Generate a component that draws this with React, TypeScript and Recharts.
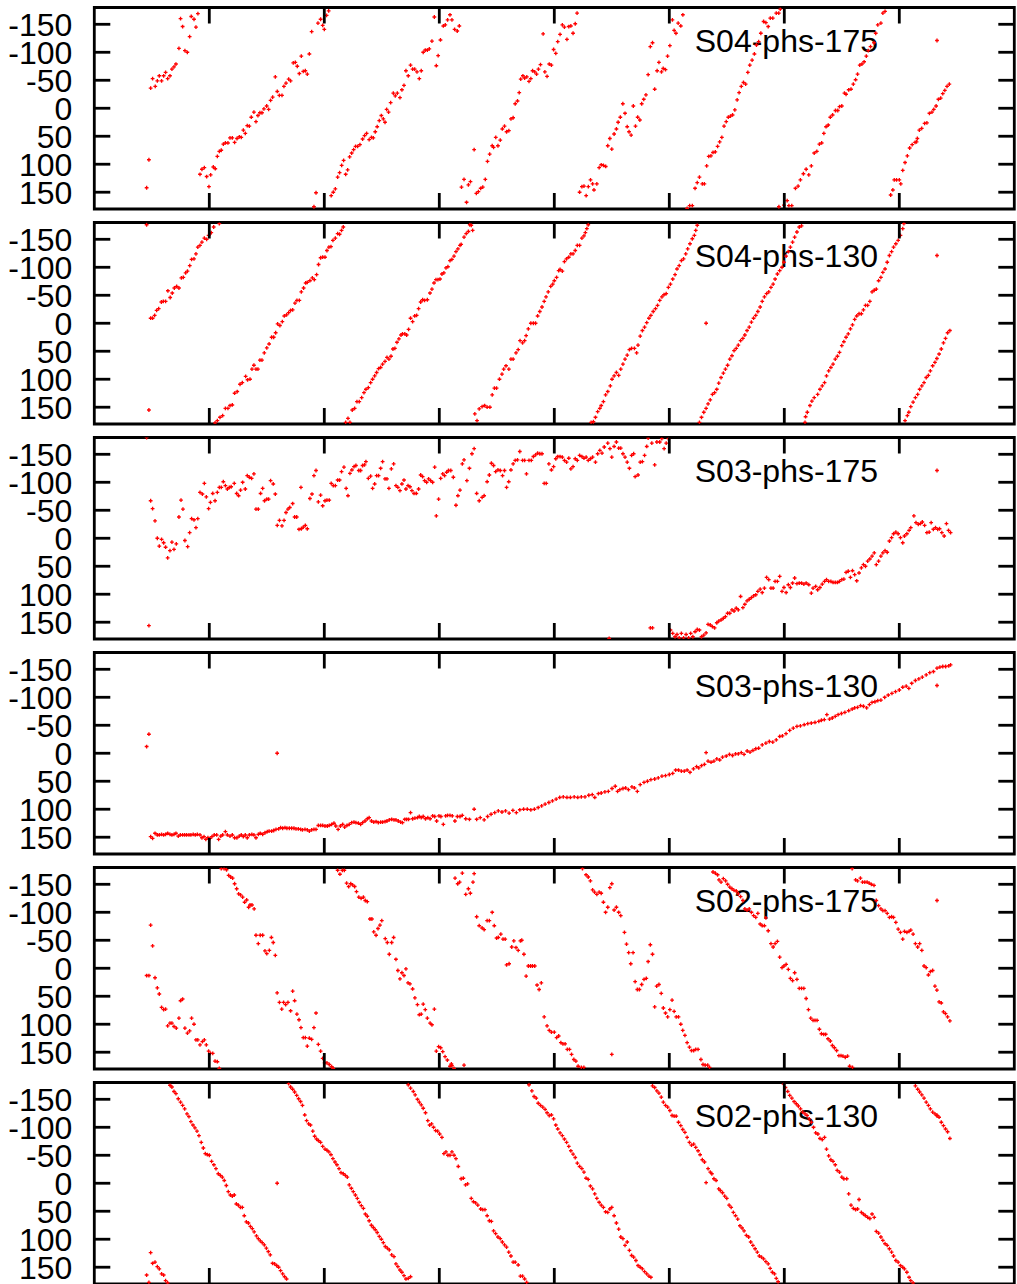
import React from 'react';
import { ScatterChart, Scatter, XAxis, YAxis, ReferenceArea } from 'recharts';

type Pt = [number, number];

// phase (deg) against time; x in tick units (0..8)
const s04_175: Pt[] = [
  [0.455,142],[0.475,92],[0.49,-36],[0.507,-53],[0.53,-39],[0.548,-49],[0.565,-58],[0.585,-49],[0.603,-58],[0.62,-64],[0.638,-53],[0.658,-58],[0.675,-70],[0.693,-74],[0.71,-79],[0.736,-107],[0.75,-160],[0.768,-146],[0.788,-103],[0.809,-100],[0.829,-128],[0.843,-164],[0.867,-159],[0.884,-145],[0.901,-169],
  [0.919,118],[0.936,109],[0.957,106],[0.977,122],[0.997,140],[1.012,119],[1.035,105],[1.052,108],[1.07,86],[1.087,77],[1.104,75],[1.122,64],[1.14,62],[1.162,62],[1.18,53],[1.2,53],[1.22,61],[1.241,54],[1.261,51],[1.278,52],[1.296,39],[1.313,45],[1.33,31],[1.348,32],[1.365,16],[1.388,7],[1.406,24],[1.423,13],[1.44,8],[1.458,8],[1.475,1],[1.499,-4],[1.516,2],[1.533,-14],[1.551,-20],[1.574,-56],[1.591,-30],[1.609,-23],[1.632,-23],[1.649,-39],[1.667,-45],[1.69,-52],[1.707,-49],[1.73,-81],[1.748,-82],[1.765,-75],[1.783,-62],[1.8,-93],[1.817,-66],[1.835,-67],[1.852,-61],[1.87,-97],[1.89,-137],[1.91,176],[1.928,151],[1.945,-152],[1.968,-159],[1.986,-148],[2.0,-141],[2.02,-166],[2.038,-174],
  [2.06,156],[2.078,150],[2.096,144],[2.116,123],[2.133,115],[2.151,102],[2.168,93],[2.186,118],[2.203,110],[2.22,87],[2.238,80],[2.255,74],[2.272,68],[2.29,68],[2.31,65],[2.333,55],[2.35,49],[2.368,45],[2.39,56],[2.41,52],[2.426,53],[2.443,42],[2.46,33],[2.478,22],[2.496,13],[2.513,19],[2.528,25],[2.542,2],[2.559,7],[2.577,-10],[2.6,-27],[2.617,-22],[2.635,-27],[2.658,-19],[2.675,-33],[2.693,-41],[2.71,-67],[2.73,-58],[2.75,-77],[2.768,-70],[2.786,-70],[2.806,-65],[2.826,-53],[2.843,-67],[2.86,-100],[2.878,-104],[2.896,-104],[2.913,-106],[2.936,-120],[2.957,-163],[2.974,-76],[2.99,-94],[3.01,-122],[3.035,-147],[3.052,-149],[3.072,-158],[3.093,-167],[3.11,-158],[3.133,-141],[3.156,-138],[3.174,-147],
  [3.193,141],[3.215,127],[3.237,168],[3.253,137],[3.271,131],[3.303,74],[3.322,152],[3.34,149],[3.36,143],[3.378,141],[3.4,127],[3.419,95],[3.438,82],[3.46,67],[3.472,70],[3.491,52],[3.51,67],[3.53,57],[3.548,37],[3.567,32],[3.585,42],[3.605,40],[3.623,19],[3.642,17],[3.66,-8],[3.68,-13],[3.695,-28],[3.708,-52],[3.727,-58],[3.742,-54],[3.761,-56],[3.78,-48],[3.796,-53],[3.811,-67],[3.83,-65],[3.846,-61],[3.862,-70],[3.88,-78],[3.903,-133],[3.918,-65],[3.937,-57],[3.956,-79],[3.975,-77],[3.994,-105],[4.013,-98],[4.03,-119],[4.05,-132],[4.07,-149],[4.088,-145],[4.11,-123],[4.126,-146],[4.144,-147],[4.163,-134],[4.182,-151],[4.198,-170],
  [4.22,150],[4.24,140],[4.258,139],[4.277,156],[4.296,140],[4.315,128],[4.333,135],[4.345,146],[4.37,135],[4.39,106],[4.408,101],[4.427,102],[4.447,104],[4.465,67],[4.483,54],[4.5,73],[4.52,46],[4.54,37],[4.555,25],[4.574,16],[4.596,-8],[4.615,9],[4.634,33],[4.65,42],[4.668,48],[4.687,-4],[4.706,32],[4.725,16],[4.744,21],[4.76,-8],[4.778,-16],[4.797,-24],[4.816,-60],[4.835,-110],[4.854,-117],[4.873,-34],[4.894,-67],[4.91,-82],[4.932,-65],[4.947,-71],[4.967,-69],[4.985,-93],[5.005,-112],[5.027,-158],[5.042,-139],[5.058,-134],[5.077,-152],[5.1,-147],[5.118,-167],
  [5.155,179],[5.177,174],[5.2,174],[5.224,143],[5.243,133],[5.262,123],[5.287,135],[5.305,135],[5.325,103],[5.343,86],[5.362,85],[5.38,79],[5.4,78],[5.42,68],[5.438,60],[5.457,52],[5.476,32],[5.495,24],[5.513,16],[5.532,14],[5.55,12],[5.57,3],[5.59,-15],[5.607,-28],[5.626,-39],[5.645,-46],[5.664,-43],[5.683,-64],[5.7,-77],[5.72,-86],[5.74,-97],[5.758,-113],[5.777,-119],[5.796,-134],[5.82,-155],[5.84,-153],[5.86,-146],[5.878,-161],[5.9,-161],[5.93,-170],[5.952,-170],[5.965,-177],
  [5.953,176],[5.997,173],[6.025,165],[6.04,174],[6.065,174],[6.097,143],[6.12,139],[6.14,128],[6.166,117],[6.19,109],[6.213,119],[6.235,103],[6.26,80],[6.283,77],[6.305,64],[6.325,62],[6.344,45],[6.363,33],[6.382,30],[6.4,16],[6.42,12],[6.445,4],[6.465,4],[6.48,-3],[6.5,-4],[6.523,-27],[6.537,-25],[6.56,-33],[6.58,-34],[6.6,-43],[6.62,-51],[6.637,-61],[6.656,-77],[6.675,-79],[6.694,-83],[6.713,-93],[6.73,-103],[6.75,-110],[6.78,-117],[6.795,-134],[6.813,-149],[6.84,-152],[6.857,-170],[6.876,-173],
  [6.925,155],[6.944,146],[6.956,128],[6.976,128],[7.0,128],[7.013,135],[7.03,111],[7.05,97],[7.07,85],[7.09,71],[7.112,65],[7.137,61],[7.15,60],[7.157,54],[7.174,39],[7.195,36],[7.22,27],[7.24,26],[7.262,9],[7.284,7],[7.3,2],[7.32,-4],[7.34,-16],[7.36,-18],[7.378,-26],[7.396,-32],[7.415,-39],[7.435,-43],
];

const s04_130: Pt[] = [
  [0.455,-176],[0.475,155],
  [0.49,-9],[0.507,-9],[0.525,-14],[0.542,-23],[0.56,-26],[0.583,-38],[0.6,-39],[0.62,-39],[0.64,-58],[0.66,-46],[0.678,-54],[0.696,-63],[0.716,-66],[0.736,-63],[0.757,-81],[0.774,-82],[0.794,-90],[0.81,-93],[0.83,-103],[0.846,-114],[0.867,-115],[0.884,-124],[0.9,-136],[0.919,-139],[0.936,-145],[0.957,-152],[0.977,-150],[0.994,-157],[1.006,-160],[1.017,-162],[1.038,-172],[1.087,-178],
  [1.05,178],[1.07,174],[1.093,168],[1.116,165],[1.14,152],[1.162,152],[1.18,147],[1.2,146],[1.22,125],[1.243,122],[1.267,109],[1.287,106],[1.316,95],[1.333,101],[1.354,100],[1.371,82],[1.388,75],[1.406,82],[1.423,82],[1.44,66],[1.458,66],[1.478,53],[1.5,44],[1.52,37],[1.542,25],[1.56,25],[1.577,17],[1.594,1],[1.614,4],[1.635,-3],[1.652,-13],[1.672,-15],[1.69,-19],[1.707,-23],[1.725,-24],[1.745,-36],[1.762,-41],[1.783,-41],[1.8,-56],[1.82,-63],[1.838,-72],[1.852,-73],[1.875,-76],[1.896,-81],[1.913,-78],[1.933,-87],[1.95,-105],[1.968,-117],[1.986,-118],[2.006,-118],[2.023,-130],[2.04,-136],[2.058,-137],[2.075,-148],[2.096,-152],[2.116,-160],[2.133,-159],[2.15,-166],[2.165,-172],
  [2.186,177],[2.206,170],[2.223,177],[2.243,155],[2.264,152],[2.284,140],[2.304,140],[2.325,133],[2.345,124],[2.362,118],[2.383,115],[2.403,106],[2.42,100],[2.438,94],[2.455,88],[2.472,81],[2.49,79],[2.507,73],[2.528,68],[2.545,61],[2.562,64],[2.58,59],[2.597,46],[2.614,45],[2.632,34],[2.649,28],[2.667,21],[2.68,19],[2.7,19],[2.716,21],[2.733,11],[2.75,-9],[2.768,-3],[2.786,-13],[2.803,-14],[2.82,-26],[2.838,-38],[2.855,-42],[2.872,-41],[2.896,-42],[2.919,-54],[2.936,-61],[2.954,-72],[2.971,-78],[2.988,-78],[3.006,-79],[3.023,-88],[3.04,-90],[3.058,-99],[3.075,-101],[3.093,-112],[3.11,-114],[3.128,-120],[3.145,-128],[3.162,-133],[3.18,-139],[3.19,-141],[3.215,-154],[3.234,-160],[3.253,-164],[3.265,-176],[3.278,-175],[3.29,-166],
  [3.309,162],[3.328,174],[3.347,153],[3.372,149],[3.394,147],[3.416,150],[3.44,150],[3.46,128],[3.479,116],[3.498,116],[3.523,100],[3.545,91],[3.56,82],[3.58,76],[3.605,82],[3.623,64],[3.642,64],[3.667,53],[3.686,47],[3.702,31],[3.724,35],[3.742,31],[3.755,22],[3.774,10],[3.796,0],[3.818,0],[3.837,0],[3.855,-13],[3.874,-21],[3.893,-29],[3.912,-39],[3.928,-47],[3.947,-56],[3.969,-66],[3.987,-70],[4.0,-76],[4.02,-82],[4.038,-94],[4.05,-96],[4.07,-93],[4.088,-110],[4.106,-115],[4.126,-118],[4.144,-124],[4.163,-124],[4.182,-130],[4.2,-139],[4.22,-139],[4.24,-152],[4.258,-156],[4.27,-162],[4.283,-169],[4.295,-176],
  [4.32,177],[4.34,176],[4.358,168],[4.377,158],[4.396,152],[4.408,147],[4.427,140],[4.446,128],[4.465,122],[4.487,112],[4.502,100],[4.52,94],[4.54,88],[4.56,93],[4.578,82],[4.597,73],[4.615,64],[4.634,57],[4.653,47],[4.672,45],[4.697,45],[4.716,53],[4.728,39],[4.747,23],[4.766,13],[4.785,7],[4.804,-1],[4.823,-9],[4.84,-14],[4.86,-21],[4.88,-26],[4.898,-32],[4.917,-41],[4.936,-47],[4.954,-51],[4.973,-53],[4.992,-64],[5.01,-70],[5.03,-79],[5.05,-87],[5.067,-97],[5.086,-103],[5.105,-112],[5.124,-115],[5.143,-124],[5.16,-133],[5.18,-142],[5.2,-151],[5.218,-157],[5.23,-166],[5.243,-175],
  [5.32,0],
  [5.262,177],[5.28,168],[5.3,159],[5.32,152],[5.337,144],[5.356,137],[5.375,127],[5.394,124],[5.413,118],[5.43,107],[5.45,97],[5.47,89],[5.488,82],[5.507,75],[5.526,64],[5.545,58],[5.563,49],[5.582,45],[5.6,39],[5.62,31],[5.64,27],[5.657,21],[5.676,13],[5.695,7],[5.714,-2],[5.733,-9],[5.752,-14],[5.77,-21],[5.79,-29],[5.808,-39],[5.827,-47],[5.846,-53],[5.865,-56],[5.884,-64],[5.903,-70],[5.92,-79],[5.94,-88],[5.96,-94],[5.98,-100],[5.997,-109],[6.016,-120],[6.035,-128],[6.053,-136],[6.072,-145],[6.09,-154],[6.11,-163],[6.13,-172],[6.15,-174],
  [6.18,177],[6.185,167],[6.2,159],[6.223,147],[6.24,139],[6.26,133],[6.29,127],[6.31,118],[6.33,112],[6.35,106],[6.367,94],[6.386,85],[6.405,79],[6.424,73],[6.443,64],[6.462,59],[6.48,52],[6.5,40],[6.518,33],[6.537,25],[6.556,19],[6.575,10],[6.593,3],[6.612,-7],[6.63,-13],[6.65,-17],[6.67,-17],[6.688,-24],[6.706,-32],[6.725,-32],[6.744,-39],[6.763,-56],[6.782,-59],[6.8,-61],[6.82,-76],[6.84,-82],[6.857,-91],[6.876,-97],[6.895,-109],[6.914,-121],[6.933,-128],[6.95,-136],[6.97,-142],[6.99,-148],[7.01,-157],[7.03,-169],[7.04,-178],
  [7.05,174],[7.07,165],[7.083,159],[7.1,149],[7.12,141],[7.14,133],[7.16,127],[7.177,118],[7.196,112],[7.215,106],[7.234,97],[7.253,93],[7.27,85],[7.29,76],[7.31,70],[7.327,63],[7.346,55],[7.365,46],[7.384,35],[7.402,27],[7.42,17],[7.44,13],
];

const s03_175: Pt[] = [
  [0.455,-180],[0.475,156],[0.49,-67],[0.507,-53],[0.528,-31],[0.548,0],[0.565,14],[0.585,2],[0.603,8],[0.62,16],[0.638,35],[0.658,22],[0.675,7],[0.693,20],[0.713,10],[0.736,-38],[0.754,-68],[0.771,-52],[0.788,4],[0.812,15],[0.829,-10],[0.846,-35],[0.867,-33],[0.884,-19],[0.9,-35],[0.919,-82],[0.94,-79],[0.957,-98],[0.974,-74],[0.994,-53],[1.01,-64],[1.03,-80],[1.05,-67],[1.07,-82],[1.087,-91],[1.104,-91],[1.122,-101],[1.14,-94],[1.157,-88],[1.174,-91],[1.19,-92],[1.217,-98],[1.238,-80],[1.255,-76],[1.272,-86],[1.29,-100],[1.313,-88],[1.33,-112],[1.348,-109],[1.368,-107],[1.388,-115],[1.406,-52],[1.426,-52],[1.446,-80],[1.464,-89],[1.48,-67],[1.5,-70],[1.516,-70],[1.533,-103],[1.556,-97],[1.574,-79],[1.591,-23],[1.61,-32],[1.632,-22],[1.65,-32],[1.667,-46],[1.684,-52],[1.7,-55],[1.725,-62],[1.742,-38],[1.76,-38],[1.78,-16],[1.797,-91],[1.8,-17],[1.817,-20],[1.835,-23],[1.852,-17],[1.875,-71],[1.893,-79],[1.91,-112],[1.928,-121],[1.948,-65],[1.968,-77],[1.986,-58],[2.006,-67],[2.023,-68],[2.043,-68],[2.06,-98],[2.078,-94],[2.096,-94],[2.116,-104],[2.133,-104],[2.15,-119],[2.171,-127],[2.19,-89],[2.206,-76],[2.223,-116],[2.24,-122],[2.258,-128],[2.275,-130],[2.3,-121],[2.316,-121],[2.333,-130],[2.35,-131],[2.362,-137],[2.383,-107],[2.403,-111],[2.42,-89],[2.438,-97],[2.455,-112],[2.472,-112],[2.49,-125],[2.507,-137],[2.528,-106],[2.545,-106],[2.562,-89],[2.583,-124],[2.603,-133],[2.623,-94],[2.64,-91],[2.658,-85],[2.675,-97],[2.693,-104],[2.71,-88],[2.728,-94],[2.745,-92],[2.762,-85],[2.78,-80],[2.8,-80],[2.82,-88],[2.838,-113],[2.855,-110],[2.872,-103],[2.89,-100],[2.907,-106],[2.925,-103],[2.942,-100],[2.96,-127],[2.974,-40],[2.994,-70],[3.012,-107],[3.03,-115],[3.046,-112],[3.064,-118],[3.08,-121],[3.1,-121],[3.122,-109],[3.145,-59],[3.162,-76],[3.18,-86],
  [3.2,-133],[3.215,-140],[3.24,-103],[3.262,-125],[3.284,-151],[3.303,-160],[3.325,-80],[3.347,-67],[3.372,-73],[3.39,-76],[3.416,-101],[3.435,-113],[3.453,-134],[3.472,-130],[3.49,-119],[3.51,-122],[3.53,-121],[3.55,-112],[3.567,-121],[3.585,-91],[3.604,-101],[3.623,-122],[3.642,-133],[3.66,-139],[3.68,-140],[3.7,-155],[3.724,-139],[3.742,-139],[3.758,-115],[3.78,-139],[3.8,-139],[3.818,-146],[3.837,-149],[3.855,-152],[3.874,-151],[3.893,-151],[3.912,-98],[3.93,-98],[3.953,-133],[3.975,-122],[3.994,-128],[4.013,-142],[4.03,-146],[4.05,-146],[4.07,-145],[4.088,-139],[4.107,-136],[4.126,-143],[4.144,-124],[4.163,-128],[4.182,-142],[4.2,-139],[4.22,-148],[4.24,-146],[4.258,-143],[4.277,-145],[4.295,-139],[4.314,-142],[4.333,-145],[4.358,-136],[4.377,-151],[4.396,-157],[4.415,-152],[4.434,-163],[4.465,-170],[4.484,-160],[4.5,-145],[4.52,-164],[4.54,-172],[4.56,-161],[4.578,-161],[4.597,-151],[4.615,-145],[4.634,-136],[4.653,-125],[4.672,-148],[4.69,-151],[4.703,-110],[4.728,-113],[4.747,-136],[4.766,-137],[4.785,-148],[4.804,-164],[4.816,-179],[4.848,-170],[4.873,-131],[4.892,-172],[4.917,-172],[4.935,-178],[4.955,-160],[4.973,-170],[4.992,-178],
  [4.477,179],[4.835,160],[4.854,160],[5.01,164],[5.03,170],[5.05,176],[5.067,172],[5.086,178],[5.105,170],[5.124,178],[5.146,172],[5.168,178],[5.186,170],[5.205,176],[5.224,167],[5.243,163],[5.262,164],[5.28,176],[5.3,173],[5.32,169],[5.337,154],[5.356,155],[5.375,158],[5.394,160],[5.413,151],[5.43,148],[5.45,146],[5.47,143],[5.488,140],[5.507,134],[5.526,134],[5.545,128],[5.563,130],[5.582,125],[5.6,128],[5.62,104],[5.64,124],[5.657,118],[5.676,112],[5.695,109],[5.714,106],[5.733,103],[5.752,101],[5.77,95],[5.79,91],[5.808,97],[5.827,89],[5.846,70],[5.865,74],[5.884,89],[5.903,89],[5.92,77],[5.94,77],[5.96,68],[5.98,95],[5.997,88],[6.016,97],[6.035,83],[6.053,88],[6.072,80],[6.09,71],[6.11,81],[6.13,80],[6.15,80],[6.17,82],[6.19,80],[6.213,83],[6.235,98],[6.25,89],[6.273,86],[6.29,92],[6.31,88],[6.33,82],[6.35,77],[6.367,74],[6.386,77],[6.405,77],[6.424,79],[6.443,79],[6.462,79],[6.48,77],[6.5,74],[6.518,73],[6.537,61],[6.556,59],[6.575,70],[6.593,58],[6.612,65],[6.63,76],[6.65,62],[6.67,53],[6.688,47],[6.706,50],[6.725,41],[6.744,37],[6.763,32],[6.782,26],[6.8,47],[6.82,41],[6.84,32],[6.857,26],[6.876,22],[6.895,25],[6.914,5],[6.933,-1],[6.95,-8],[6.97,-11],[6.99,-8],[7.01,-1],[7.03,8],[7.045,-4],[7.066,-8],[7.085,-14],[7.1,-19],[7.127,-40],[7.145,-28],[7.165,-25],[7.184,-26],[7.2,-29],[7.22,-23],[7.24,-10],[7.26,-11],[7.277,-28],[7.296,-16],[7.315,-19],[7.334,-16],[7.35,-17],[7.37,-10],[7.39,-4],[7.41,-26],[7.428,-14],[7.446,-10],
];

const s03_130: Pt[] = [
  [0.455,-12],[0.475,-34],[1.59,0],
  [0.49,149],[0.507,152],[0.528,143],[0.548,146],[0.565,146],[0.585,145],[0.603,146],[0.62,145],[0.638,143],[0.658,145],[0.675,146],[0.693,145],[0.71,143],[0.73,148],[0.748,146],[0.768,146],[0.786,146],[0.803,146],[0.823,146],[0.84,146],[0.86,145],[0.878,146],[0.896,145],[0.919,146],[0.936,151],[0.954,149],[0.97,154],[0.988,151],[1.006,152],[1.023,149],[1.043,146],[1.064,146],[1.081,154],[1.1,148],[1.116,146],[1.14,140],[1.157,146],[1.18,148],[1.2,146],[1.22,151],[1.24,151],[1.26,148],[1.278,146],[1.296,149],[1.313,146],[1.33,151],[1.348,146],[1.37,145],[1.388,146],[1.406,151],[1.426,145],[1.443,143],[1.464,145],[1.484,142],[1.504,140],[1.52,139],[1.542,139],[1.56,138],[1.58,136],[1.603,135],[1.62,133],[1.638,134],[1.658,133],[1.675,134],[1.696,134],[1.716,134],[1.736,134],[1.754,135],[1.774,135],[1.794,136],[1.81,137],[1.832,136],[1.852,137],[1.87,139],[1.89,137],[1.91,136],[1.928,136],[1.948,129],[1.968,129],[1.986,129],[2.006,130],[2.026,130],[2.043,129],[2.064,127],[2.084,125],[2.1,130],[2.12,136],[2.14,130],[2.16,127],[2.177,132],[2.197,129],[2.217,127],[2.238,124],[2.258,123],[2.275,124],[2.296,125],[2.316,127],[2.333,124],[2.354,121],[2.374,117],[2.39,115],[2.41,121],[2.43,123],[2.45,122],[2.47,124],[2.49,123],[2.507,123],[2.528,122],[2.545,121],[2.565,119],[2.586,118],[2.606,119],[2.623,119],[2.643,121],[2.664,123],[2.68,124],[2.7,118],[2.716,118],[2.733,118],[2.75,106],[2.768,117],[2.788,116],[2.81,115],[2.826,113],[2.843,115],[2.86,113],[2.88,117],[2.9,115],[2.92,117],[2.942,112],[2.96,113],[2.977,121],[2.997,112],[3.014,113],[3.035,127],[3.055,112],[3.072,111],[3.093,111],[3.113,112],[3.136,121],[3.157,113],[3.18,113],
  [3.2,111],[3.23,117],[3.262,118],[3.303,100],[3.325,118],[3.356,115],[3.39,119],[3.42,113],[3.45,109],[3.482,106],[3.513,103],[3.545,105],[3.576,103],[3.607,107],[3.64,102],[3.67,106],[3.7,101],[3.733,100],[3.765,100],[3.796,101],[3.827,100],[3.86,97],[3.89,94],[3.92,91],[3.953,88],[3.984,85],[4.016,82],[4.047,79],[4.078,78],[4.11,79],[4.14,79],[4.173,78],[4.204,79],[4.235,78],[4.267,78],[4.3,75],[4.33,74],[4.352,79],[4.383,72],[4.408,71],[4.44,69],[4.47,68],[4.502,63],[4.53,59],[4.55,68],[4.57,65],[4.597,63],[4.62,62],[4.645,65],[4.675,60],[4.697,62],[4.722,68],[4.747,56],[4.78,52],[4.81,50],[4.84,47],[4.873,46],[4.904,44],[4.936,41],[4.967,40],[5.0,38],[5.03,36],[5.055,30],[5.08,30],[5.105,32],[5.13,32],[5.155,30],[5.18,34],[5.21,28],[5.237,24],[5.256,26],[5.28,22],[5.306,20],[5.32,-1],[5.337,14],[5.363,16],[5.388,14],[5.413,10],[5.438,12],[5.463,7],[5.495,5],[5.523,2],[5.55,4],[5.576,1],[5.6,1],[5.626,-1],[5.65,2],[5.677,-4],[5.702,-2],[5.727,-5],[5.752,-8],[5.777,-9],[5.808,-15],[5.84,-18],[5.87,-21],[5.9,-20],[5.93,-24],[5.96,-30],[5.984,-31],[6.015,-35],[6.047,-41],[6.078,-45],[6.11,-48],[6.14,-49],[6.173,-51],[6.204,-53],[6.235,-54],[6.267,-55],[6.3,-57],[6.323,-59],[6.348,-60],[6.37,-69],[6.393,-61],[6.417,-63],[6.443,-66],[6.468,-69],[6.497,-71],[6.527,-73],[6.56,-76],[6.59,-79],[6.612,-81],[6.637,-82],[6.663,-85],[6.688,-84],[6.716,-81],[6.74,-87],[6.763,-91],[6.788,-92],[6.813,-94],[6.84,-95],[6.873,-100],[6.904,-104],[6.936,-107],[6.967,-110],[7.0,-113],[7.03,-118],[7.06,-120],[7.083,-116],[7.108,-125],[7.14,-130],[7.17,-133],[7.2,-136],[7.234,-140],[7.265,-144],[7.297,-146],[7.328,-152],[7.353,-154],[7.378,-155],[7.403,-155],[7.43,-156],[7.446,-158],
];

const s02_175: Pt[] = [
  [0.455,13],[0.475,13],[0.49,-77],[0.507,-40],[0.528,17],[0.548,35],[0.565,46],[0.585,70],[0.603,74],[0.62,73],[0.638,103],[0.658,98],[0.675,98],[0.693,104],[0.713,107],[0.736,89],[0.75,58],[0.768,55],[0.788,107],[0.81,116],[0.829,112],[0.846,89],[0.867,100],[0.884,128],[0.9,128],[0.919,137],[0.94,131],[0.957,128],[0.974,137],[0.994,148],[1.01,152],[1.03,152],[1.05,166],[1.07,167],[1.087,179],
  [1.104,-178],[1.128,-178],[1.15,-176],[1.168,-166],[1.186,-163],[1.203,-161],[1.22,-151],[1.238,-142],[1.255,-133],[1.272,-131],[1.29,-127],[1.307,-118],[1.325,-122],[1.342,-109],[1.354,-113],[1.371,-113],[1.39,-106],[1.406,-59],[1.426,-44],[1.443,-59],[1.464,-59],[1.484,-31],[1.5,-26],[1.522,-32],[1.54,-55],[1.556,-46],[1.574,-23],[1.59,44],[1.61,61],[1.63,73],[1.646,61],[1.664,65],[1.684,61],[1.707,76],[1.725,41],[1.742,58],[1.762,82],[1.78,92],[1.797,106],[1.817,124],[1.835,124],[1.852,139],[1.87,125],[1.89,127],[1.91,106],[1.928,80],[1.948,136],[1.968,148],[1.986,161],[2.003,169],[2.023,169],[2.043,172],[2.064,176],[2.078,179],
  [2.116,-175],[2.136,-168],[2.157,-175],[2.174,-175],[2.194,-152],[2.212,-146],[2.23,-151],[2.246,-149],[2.264,-146],[2.28,-137],[2.3,-127],[2.32,-125],[2.34,-127],[2.356,-121],[2.374,-119],[2.397,-88],[2.414,-88],[2.43,-65],[2.45,-59],[2.467,-71],[2.484,-77],[2.5,-85],[2.53,-53],[2.548,-46],[2.565,-25],[2.586,-46],[2.603,-55],[2.623,-16],[2.64,4],[2.658,19],[2.675,8],[2.693,13],[2.71,1],[2.728,26],[2.745,28],[2.768,37],[2.788,53],[2.81,65],[2.826,83],[2.843,82],[2.86,64],[2.878,74],[2.896,89],[2.92,98],[2.936,101],[2.957,73],
  [2.974,148],[2.994,140],[3.012,142],[3.03,149],[3.05,158],[3.07,164],[3.093,175],[3.105,171],[3.11,174],[3.128,179],[3.215,173],
  [3.137,-161],[3.16,-151],[3.177,-154],[3.2,-170],[3.23,-132],[3.253,-142],[3.27,-134],[3.293,-154],[3.303,-169],[3.325,-92],[3.347,-76],[3.372,-72],[3.39,-69],[3.416,-85],[3.435,-85],[3.46,-100],[3.478,-76],[3.498,-54],[3.513,-55],[3.535,-61],[3.554,-52],[3.573,-52],[3.585,-6],[3.607,-8],[3.63,-38],[3.648,-49],[3.667,-37],[3.686,-32],[3.705,-49],[3.717,-50],[3.736,-25],[3.755,14],[3.774,-4],[3.793,-4],[3.81,-4],[3.83,-4],[3.85,30],[3.868,38],[3.887,26],[3.912,87],[3.937,103],[3.956,111],[3.975,114],[4.0,114],[4.02,124],[4.038,121],[4.057,133],[4.075,135],[4.094,135],[4.113,145],[4.132,145],[4.15,154],[4.17,163],[4.188,166],[4.207,175],[4.235,177],[4.257,177],
  [4.245,-178],[4.276,-167],[4.295,-163],[4.314,-156],[4.333,-140],[4.35,-136],[4.37,-132],[4.39,-136],[4.408,-134],[4.427,-118],[4.446,-100],[4.465,-109],[4.483,-144],[4.5,-151],[4.52,-104],[4.54,-109],[4.56,-100],[4.578,-94],[4.61,-64],[4.628,-43],[4.647,-28],[4.665,-8],[4.685,-28],[4.703,24],[4.722,38],[4.74,38],[4.76,29],[4.78,20],[4.8,18],[4.816,-12],[4.835,-42],[4.854,-25],[4.873,69],[4.89,32],[4.91,29],[4.93,45],[4.948,71],[4.967,80],[4.986,87],[5.005,74],[5.024,57],[5.042,77],[5.06,87],[5.08,87],[5.1,100],[5.117,111],[5.136,120],[5.155,133],[5.175,141],[5.193,147],[5.212,147],[5.23,145],[5.25,145],[5.275,163],[5.293,172],[5.312,173],[5.334,173],[5.35,177],[4.5,154],
  [5.38,-172],[5.4,-170],[5.42,-167],[5.432,-158],[5.45,-154],[5.47,-160],[5.49,-156],[5.507,-150],[5.526,-145],[5.545,-142],[5.563,-139],[5.582,-138],[5.6,-133],[5.62,-128],[5.64,-121],[5.657,-106],[5.676,-104],[5.695,-106],[5.714,-100],[5.733,-94],[5.752,-91],[5.77,-98],[5.79,-79],[5.808,-76],[5.827,-76],[5.84,-90],[5.86,-67],[5.884,-44],[5.903,-38],[5.92,-44],[5.94,-48],[5.96,-20],[5.98,-1],[5.997,-4],[6.016,-7],[6.035,2],[6.053,18],[6.072,22],[6.09,8],[6.11,20],[6.13,36],[6.15,36],[6.17,36],[6.19,54],[6.21,74],[6.23,89],[6.25,93],[6.267,93],[6.285,93],[6.305,109],[6.323,117],[6.343,118],[6.36,118],[6.38,126],[6.4,130],[6.418,138],[6.436,142],[6.455,147],[6.475,156],[6.493,156],[6.51,157],[6.53,159],[6.55,157],[6.568,175],[6.593,177],
  [6.59,-178],[6.62,-158],[6.637,-156],[6.662,-161],[6.68,-154],[6.7,-154],[6.72,-154],[6.738,-152],[6.757,-150],[6.78,-148],[6.8,-121],[6.82,-112],[6.84,-106],[6.857,-103],[6.876,-103],[6.895,-98],[6.914,-91],[6.933,-92],[6.95,-91],[6.97,-82],[6.99,-70],[7.01,-64],[7.03,-52],[7.045,-66],[7.066,-64],[7.085,-66],[7.1,-68],[7.12,-61],[7.14,-44],[7.16,-38],[7.177,-44],[7.196,-32],[7.215,-4],[7.234,-1],[7.253,12],[7.27,6],[7.29,4],[7.31,32],[7.327,39],[7.346,60],[7.365,62],[7.384,78],[7.402,81],[7.42,87],[7.44,94],
];

const s02_130: Pt[] = [
  [0.455,164],[0.475,177],[0.49,124],[0.507,143],[0.528,141],[0.548,149],[0.565,153],[0.585,162],[0.603,164],[0.62,174],[0.638,178],
  [0.658,-175],[0.675,-172],[0.693,-164],[0.71,-160],[0.73,-151],[0.75,-145],[0.768,-139],[0.786,-133],[0.806,-124],[0.823,-119],[0.84,-110],[0.858,-104],[0.875,-99],[0.893,-93],[0.91,-85],[0.93,-73],[0.948,-63],[0.965,-53],[0.983,-51],[1.0,-50],[1.02,-39],[1.04,-33],[1.058,-26],[1.078,-17],[1.096,-14],[1.113,-11],[1.13,-5],[1.148,4],[1.165,15],[1.183,21],[1.2,23],[1.217,21],[1.235,37],[1.252,39],[1.27,43],[1.287,43],[1.304,58],[1.322,69],[1.34,71],[1.357,77],[1.374,81],[1.39,87],[1.41,94],[1.426,99],[1.443,103],[1.46,106],[1.478,110],[1.496,116],[1.513,122],[1.53,128],[1.55,143],[1.568,144],[1.586,147],[1.603,150],[1.62,156],[1.638,162],[1.655,167],[1.672,171],[1.59,0],
  [1.69,-178],[1.707,-172],[1.725,-168],[1.742,-163],[1.76,-157],[1.777,-151],[1.794,-146],[1.81,-139],[1.83,-122],[1.846,-112],[1.864,-106],[1.88,-104],[1.9,-93],[1.916,-84],[1.933,-79],[1.95,-76],[1.968,-73],[1.986,-66],[2.006,-61],[2.023,-59],[2.04,-56],[2.058,-51],[2.075,-44],[2.093,-38],[2.11,-33],[2.128,-26],[2.145,-19],[2.165,-17],[2.183,-14],[2.2,-11],[2.217,3],[2.235,9],[2.252,15],[2.27,21],[2.287,27],[2.304,34],[2.322,40],[2.34,45],[2.357,55],[2.374,59],[2.39,67],[2.409,75],[2.426,79],[2.443,83],[2.46,88],[2.478,95],[2.496,100],[2.513,106],[2.53,113],[2.548,116],[2.565,119],[2.586,128],[2.606,131],[2.623,144],[2.64,149],[2.658,155],[2.675,159],[2.693,165],[2.71,171],[2.73,170],[2.75,167],
  [2.73,-176],[2.75,-170],[2.774,-164],[2.79,-158],[2.81,-150],[2.826,-145],[2.843,-140],[2.86,-134],[2.88,-126],[2.9,-112],[2.916,-104],[2.933,-106],[2.95,-100],[2.968,-94],[2.986,-93],[3.003,-88],[3.023,-82],[3.04,-53],[3.058,-56],[3.075,-50],[3.093,-50],[3.11,-56],[3.128,-50],[3.145,-44],[3.165,-30],[3.19,-8],[3.209,-9],[3.228,3],[3.246,1],[3.278,27],[3.297,33],[3.316,35],[3.335,39],[3.36,46],[3.378,47],[3.397,47],[3.416,58],[3.435,67],[3.453,68],[3.472,85],[3.49,90],[3.51,96],[3.53,99],[3.548,105],[3.567,110],[3.585,114],[3.604,123],[3.623,130],[3.642,141],[3.66,141],[3.686,146],[3.705,166],[3.724,166],[3.742,171],[3.76,177],
  [3.78,-176],[3.805,-165],[3.824,-155],[3.843,-152],[3.86,-143],[3.88,-139],[3.9,-136],[3.92,-132],[3.937,-126],[3.956,-121],[3.975,-122],[3.994,-115],[4.013,-104],[4.03,-97],[4.05,-90],[4.07,-85],[4.088,-79],[4.107,-73],[4.126,-66],[4.144,-58],[4.163,-52],[4.182,-46],[4.2,-36],[4.22,-30],[4.24,-26],[4.258,-20],[4.276,-9],[4.295,-7],[4.314,5],[4.333,10],[4.352,19],[4.37,27],[4.39,34],[4.408,39],[4.427,43],[4.446,51],[4.465,52],[4.483,46],[4.5,43],[4.52,58],[4.54,71],[4.56,82],[4.578,96],[4.597,99],[4.615,111],[4.634,105],[4.653,120],[4.672,129],[4.69,132],[4.71,138],[4.728,147],[4.747,150],[4.766,153],[4.785,158],[4.804,162],[4.823,166],[4.84,168],
  [4.854,-174],[4.873,-171],[4.892,-165],[4.91,-161],[4.93,-154],[4.948,-145],[4.967,-139],[4.986,-136],[5.005,-130],[5.024,-121],[5.042,-120],[5.06,-120],[5.08,-109],[5.1,-103],[5.117,-96],[5.136,-91],[5.155,-82],[5.175,-73],[5.193,-68],[5.212,-70],[5.23,-64],[5.25,-58],[5.268,-51],[5.287,-42],[5.306,-38],[5.32,-1],[5.337,-26],[5.356,-20],[5.37,-17],[5.388,-8],[5.407,-5],[5.43,10],[5.444,13],[5.463,17],[5.482,23],[5.5,27],[5.52,39],[5.538,43],[5.557,52],[5.576,58],[5.595,64],[5.614,76],[5.633,80],[5.65,85],[5.67,93],[5.69,96],[5.708,105],[5.727,111],[5.746,117],[5.765,123],[5.783,130],[5.802,132],[5.82,135],[5.84,140],[5.86,144],[5.877,152],[5.896,159],[5.915,162],[5.93,170],[5.946,176],
  [5.994,-177],[6.01,-171],[6.03,-164],[6.047,-157],[6.066,-152],[6.085,-146],[6.104,-142],[6.122,-138],[6.141,-133],[6.16,-127],[6.18,-124],[6.198,-121],[6.217,-115],[6.236,-109],[6.254,-100],[6.273,-90],[6.292,-88],[6.31,-80],[6.33,-78],[6.35,-82],[6.367,-61],[6.386,-49],[6.405,-42],[6.424,-39],[6.443,-33],[6.46,-23],[6.48,-20],[6.5,-11],[6.518,-8],[6.543,-8],[6.56,19],[6.58,39],[6.6,45],[6.62,47],[6.637,46],[6.65,29],[6.67,52],[6.688,55],[6.706,58],[6.725,61],[6.744,63],[6.763,55],[6.782,61],[6.8,86],[6.82,89],[6.84,96],[6.857,102],[6.876,108],[6.895,111],[6.914,117],[6.933,123],[6.95,130],[6.97,138],[6.99,141],[7.01,147],[7.03,150],[7.045,153],[7.066,159],[7.085,168],[7.1,174],[7.12,178],
  [7.14,-174],[7.16,-168],[7.177,-163],[7.196,-158],[7.215,-152],[7.234,-145],[7.253,-139],[7.27,-133],[7.29,-127],[7.31,-124],[7.327,-121],[7.346,-118],[7.365,-109],[7.384,-103],[7.402,-97],[7.42,-92],[7.44,-80],
];

const panelNames = ['S04-phs-175', 'S04-phs-130', 'S03-phs-175', 'S03-phs-130', 'S02-phs-175', 'S02-phs-130'];
const panelData = [s04_175, s04_130, s03_175, s03_130, s02_175, s02_130];
const xTicks = [1, 2, 3, 4, 5, 6, 7];
const yTicks = [-150, -100, -50, 0, 50, 100, 150];

const W = 1017;
const H = 215;
const TOP = 7.5;
const PH = 201.5;
const BOTTOM = TOP + PH;
const LEFT = 94.3;
const RIGHT = 1014.3;
const TICK = 16;
const LW = 2.8;
const FONT = '"Liberation Sans", Arial, Helvetica, sans-serif';
const RED = '#ff0000';

const Plus = (p: any) => {
  const { cx, cy } = p;
  if (cx == null || cy == null) return null;
  return (
    <path
      d={`M${cx - 1.9} ${cy}H${cx + 1.9}M${cx} ${cy - 1.9}V${cy + 1.9}`}
      stroke={RED}
      strokeWidth={1.35}
      fill="none"
    />
  );
};

// y ticks: label on the left, inward marks on both sides
const YTick = (p: any) => (
  <g>
    <line x1={LEFT} x2={LEFT + TICK} y1={p.y} y2={p.y} stroke="#000" strokeWidth={LW} />
    <line x1={RIGHT} x2={RIGHT - TICK} y1={p.y} y2={p.y} stroke="#000" strokeWidth={LW} />
    <text x={LEFT - 22} y={p.y} dy="0.36em" textAnchor="end" fontSize={32} fontFamily={FONT} fill="#000">
      {p.payload.value}
    </text>
  </g>
);

// x ticks: no labels, inward marks on bottom and top
const XTick = (p: any) => (
  <g>
    <line x1={p.x} x2={p.x} y1={BOTTOM} y2={BOTTOM - TICK} stroke="#000" strokeWidth={LW} />
    <line x1={p.x} x2={p.x} y1={TOP} y2={TOP + TICK} stroke="#000" strokeWidth={LW} />
  </g>
);

function Panel({ name, pts, top }: { name: string; pts: Pt[]; top: number }) {
  const data = pts.map(([t, v]) => ({ t, v }));
  return (
    <div style={{ position: 'absolute', left: 0, top, width: W, height: H }}>
      <svg width={W} height={H} style={{ position: 'absolute', left: 0, top: 0 }}>
        <text x={878} y={TOP + 44} textAnchor="end" fontSize={32} fontFamily={FONT} fill="#000">
          {name}
        </text>
        <Plus cx={937} cy={TOP + 33} />
      </svg>
      <div style={{ position: 'absolute', left: 0, top: 0 }}>
        <ScatterChart width={W} height={H} margin={{ top: TOP, right: W - RIGHT, bottom: H - BOTTOM - 1, left: 0 }}>
          <XAxis dataKey="t" type="number" domain={[0, 8]} ticks={xTicks} height={1}
            axisLine={false} tickLine={false} tickSize={0} tick={XTick} interval={0} allowDataOverflow />
          <YAxis dataKey="v" type="number" domain={[-180, 180]} reversed ticks={yTicks} width={LEFT}
            axisLine={false} tickLine={false} tickSize={0} tickMargin={22} tick={YTick} interval={0} allowDataOverflow />
          <ReferenceArea x1={0} x2={8} y1={-180} y2={180} fill="none" fillOpacity={0}
            stroke="#000" strokeWidth={LW} ifOverflow="visible" />
          <Scatter data={data} shape={Plus} isAnimationActive={false} />
        </ScatterChart>
      </div>
    </div>
  );
}

export default function App() {
  return (
    <div style={{ position: 'absolute', left: 0, top: 0, width: W, height: 6 * H, background: '#fff' }}>
      {panelNames.map((name, i) => (
        <Panel key={name} name={name} pts={panelData[i]} top={i * H} />
      ))}
    </div>
  );
}
